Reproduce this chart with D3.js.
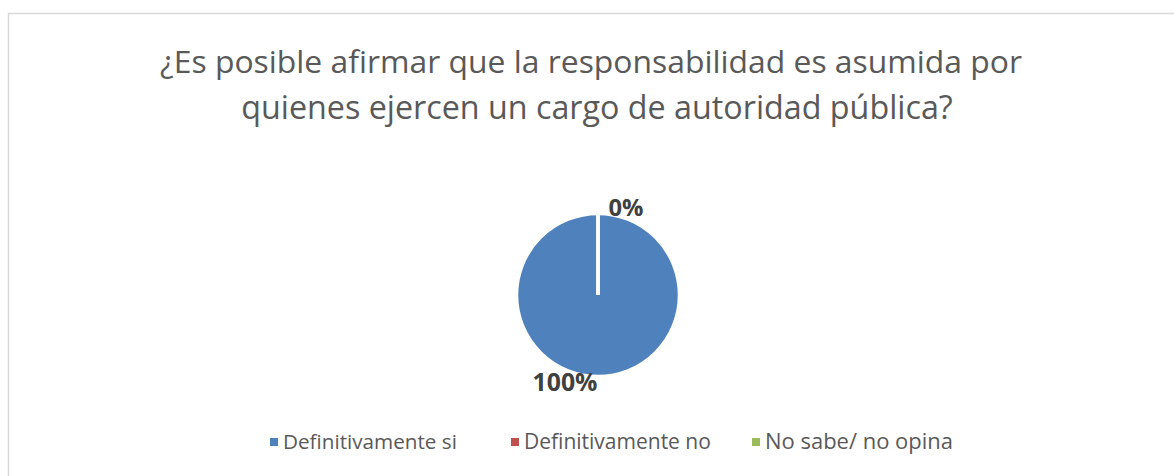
<!DOCTYPE html>
<html><head><meta charset="utf-8">
<script src="https://cdn.jsdelivr.net/npm/d3@7"></script>
<style>body{margin:0;background:#fff}svg{display:block}</style>
</head><body>
<svg id="c" width="1174" height="476"></svg>
<script>
const categories = ["Definitivamente si", "Definitivamente no", "No sabe/ no opina"];
const values = [100, 0, 0];
const labels = ["100%", "0%", "0%"];
const colors = ["#4f81bd", "#c0504d", "#9bbb59"];
const titleLines = ["¿Es posible afirmar que la responsabilidad es asumida por", "quienes ejercen un cargo de autoridad pública?"];

const svg = d3.select("#c");
const font = "'Open Sans', 'Liberation Sans', sans-serif";
svg.append("rect").attr("x", 8.5).attr("y", 13.5).attr("width", 1180).attr("height", 480)
  .attr("fill", "#fff").attr("stroke", "#d9d9d9").attr("stroke-width", 1.5);

function fit(sel, w) {
  const n = sel.node();
  const fs = parseFloat(sel.attr("font-size"));
  const cur = n.getComputedTextLength();
  sel.attr("font-size", fs * w / cur);
}

const t1 = svg.append("text").attr("x", 591).attr("y", 73).attr("text-anchor", "middle")
  .attr("font-family", font).attr("font-size", 30).attr("fill", "#595959").text(titleLines[0]);
fit(t1, 862);
const t2 = svg.append("text").attr("x", 597).attr("y", 119).attr("text-anchor", "middle")
  .attr("font-family", font).attr("font-size", 30).attr("fill", "#595959").text(titleLines[1]);
fit(t2, 712);

const cx = 598, cy = 295, r = 81.5;
const pie = d3.pie().sort(null).value(d => d)(values);
const arc = d3.arc().innerRadius(0).outerRadius(r);
const g = svg.append("g").attr("transform", `translate(${cx},${cy})`);
g.selectAll("path").data(pie).join("path")
  .attr("d", arc).attr("fill", (d, i) => colors[i])
  .attr("stroke", "#fff").attr("stroke-width", 3.5);

const lab = svg.append("g").attr("font-family", font).attr("font-weight", "bold")
  .attr("font-size", 22).attr("fill", "#404040");
const l0 = lab.append("text").attr("x", 565).attr("y", 391).attr("text-anchor", "middle")
  .attr("font-size", 22).text(labels[0]);
fit(l0, 65);
const l1 = lab.append("text").attr("x", 626).attr("y", 216).attr("text-anchor", "middle")
  .attr("font-size", 22).text(labels[1]);
fit(l1, 35);

const legX = [270, 511, 752];
const legW = [174, 187, 188];
const lg = svg.append("g");
categories.forEach((c, i) => {
  lg.append("rect").attr("x", legX[i]).attr("y", 438).attr("width", 8).attr("height", 8).attr("fill", colors[i]);
  const t = lg.append("text").attr("x", legX[i] + 13).attr("y", 449).attr("font-family", font)
    .attr("font-size", 17).attr("fill", "#595959").text(c);
  fit(t, legW[i]);
});
</script>
</body></html>
